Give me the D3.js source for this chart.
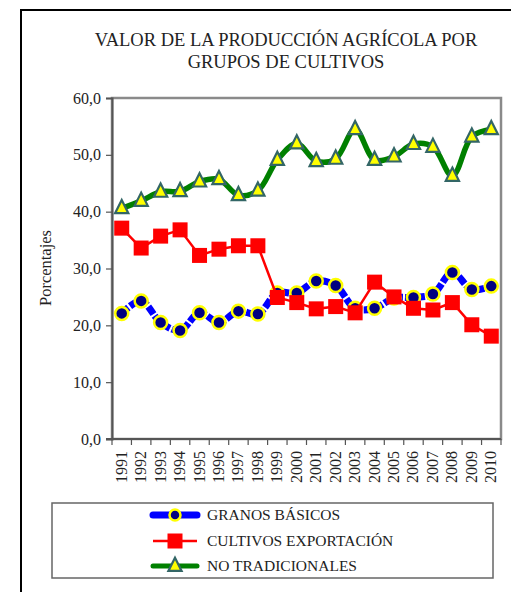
<!DOCTYPE html>
<html><head><meta charset="utf-8">
<script src="https://cdn.jsdelivr.net/npm/d3@7"></script>
<style>body{margin:0;background:#fff}svg{display:block}</style>
</head><body><svg id="c" width="511" height="592" style="font-family:'Liberation Serif','Times New Roman',Times,'DejaVu Serif',serif"></svg>
<script>
const years = ["1991","1992","1993","1994","1995","1996","1997","1998","1999","2000","2001","2002","2003","2004","2005","2006","2007","2008","2009","2010"];
const granosBasicos = [22.1,24.3,20.5,19.1,22.2,20.5,22.5,22.0,25.7,25.7,27.8,27.0,23.0,23.0,24.8,24.9,25.5,29.3,26.3,26.9];
const cultivosExportacion = [37.1,33.6,35.7,36.8,32.3,33.4,34.0,34.0,24.9,24.0,22.9,23.3,22.2,27.6,25.0,23.0,22.7,24.0,20.1,18.1];
const noTradicionales = [40.6,41.9,43.5,43.6,45.3,45.7,42.9,43.7,49.1,52.0,48.9,49.3,54.5,49.1,49.7,51.9,51.4,46.3,53.2,54.5];
const yTicks = [0,10,20,30,40,50,60];
const seriesNames = ["GRANOS BÁSICOS","CULTIVOS EXPORTACIÓN","NO TRADICIONALES"];
const titleLines = ["VALOR DE LA PRODUCCIÓN AGRÍCOLA POR","GRUPOS DE CULTIVOS"];

const FONT = "'Liberation Serif','Times New Roman',Times,'DejaVu Serif',serif";
const svg = d3.select("#c");
const L=112,R=501,T=98,B=439;
const x = d3.scaleBand().domain(years).range([L,R]);
const y = d3.scaleLinear().domain([0,60]).range([B,T]);
const fmt = v => v.toFixed(1).replace(".",",");

// outer border
svg.append("path").attr("d",`M21,600 L21,10 L520,10`).attr("fill","none").attr("stroke","#000").attr("stroke-width",2);

// title
svg.selectAll(".title").data(titleLines).enter().append("text")
 .attr("x",286).attr("y",(d,i)=>46+i*22).attr("text-anchor","middle").attr("font-size",18.5)
 .attr("font-family",FONT).attr("fill","#222").text(d=>d);

// plot border
svg.append("rect").attr("x",L).attr("y",T).attr("width",R-L).attr("height",B-T)
 .attr("fill","none").attr("stroke","#8a8a8a").attr("stroke-width",2.5);

// y axis
const ya = svg.append("g").attr("transform",`translate(${L},0)`)
 .call(d3.axisLeft(y).tickValues(yTicks).tickFormat(fmt).tickSize(6).tickPadding(5));
ya.attr("font-family",FONT);
ya.select(".domain").attr("stroke","#555").attr("stroke-width",2);
ya.selectAll(".tick line").attr("stroke","#555").attr("stroke-width",1.2);
ya.selectAll("text").attr("font-size",16).attr("font-family",FONT).attr("fill","#222");

// x axis ticks at boundaries
const xa = svg.append("g");
xa.append("line").attr("x1",L-6).attr("x2",R).attr("y1",B).attr("y2",B).attr("stroke","#555").attr("stroke-width",2);
xa.selectAll(".xt").data(years.concat(["end"])).enter().append("line")
 .attr("x1",(d,i)=>L+i*x.step()).attr("x2",(d,i)=>L+i*x.step())
 .attr("y1",B).attr("y2",B+6).attr("stroke","#555").attr("stroke-width",1.2);
xa.selectAll(".xl").data(years).enter().append("text")
 .attr("transform",d=>`translate(${x(d)+x.bandwidth()/2+5},${B+12}) rotate(-90)`)
 .attr("text-anchor","end").attr("font-size",16).attr("font-family",FONT).attr("fill","#222").text(d=>d);

// y label
svg.append("text").attr("transform","translate(51,268) rotate(-90)").attr("text-anchor","middle")
 .attr("font-size",16.5).attr("font-family",FONT).attr("fill","#222").text("Porcentajes");

const cx = d => x(d)+x.bandwidth()/2;
const mk = arr => arr.map((v,i)=>[cx(years[i]),y(v)]);

const lineSmooth = d3.line().curve(d3.curveCatmullRom.alpha(0.5));
const lineStraight = d3.line();
// series 1: granos
svg.append("path").attr("d",lineSmooth(mk(granosBasicos))).attr("fill","none")
 .attr("stroke","#0000ff").attr("stroke-width",7).attr("stroke-dasharray","9,2");
svg.selectAll(".g1").data(mk(granosBasicos)).enter().append("circle")
 .attr("cx",d=>d[0]).attr("cy",d=>d[1]).attr("r",6.5).attr("fill","#000080").attr("stroke","#ffff00").attr("stroke-width",2.5);

// series 2: cultivos
svg.append("path").attr("d",lineStraight(mk(cultivosExportacion))).attr("fill","none")
 .attr("stroke","#ff0000").attr("stroke-width",2.5);
svg.selectAll(".g2").data(mk(cultivosExportacion)).enter().append("rect")
 .attr("x",d=>d[0]-7.5).attr("y",d=>d[1]-7.5).attr("width",15).attr("height",15).attr("fill","#ff0000");

// series 3: no tradicionales
svg.append("path").attr("d",lineSmooth(mk(noTradicionales))).attr("fill","none")
 .attr("stroke","#008000").attr("stroke-width",5.5);
const tri = (cx,cy,s)=>`M${cx},${cy-s*0.75} L${cx+s*0.6},${cy+s*0.45} L${cx-s*0.6},${cy+s*0.45} Z`;
svg.selectAll(".g3").data(mk(noTradicionales)).enter().append("path")
 .attr("d",d=>tri(d[0],d[1],11)).attr("fill","#ffff00").attr("stroke","#336666").attr("stroke-width",2.2);

// legend
svg.append("rect").attr("x",52).attr("y",503).attr("width",441).attr("height",75)
 .attr("fill","none").attr("stroke","#666").attr("stroke-width",1.5);
const ly = [515,541,566];
svg.selectAll(".lg").data(seriesNames).enter().append("text")
 .attr("x",207).attr("y",(d,i)=>ly[i]+5).attr("font-size",15.5).attr("font-family",FONT).attr("fill","#222").text(d=>d);
svg.append("line").attr("x1",153).attr("x2",197).attr("y1",ly[0]).attr("y2",ly[0]).attr("stroke","#0000ff").attr("stroke-width",7).attr("stroke-linecap","round");
svg.append("circle").attr("cx",175).attr("cy",ly[0]).attr("r",5.5).attr("fill","#000080").attr("stroke","#ffff00").attr("stroke-width",2.5);
svg.append("line").attr("x1",153).attr("x2",197).attr("y1",ly[1]).attr("y2",ly[1]).attr("stroke","#ff0000").attr("stroke-width",2.5);
svg.append("rect").attr("x",167.5).attr("y",ly[1]-7.5).attr("width",15).attr("height",15).attr("fill","#ff0000");
svg.append("line").attr("x1",153).attr("x2",197).attr("y1",ly[2]).attr("y2",ly[2]).attr("stroke","#008000").attr("stroke-width",5).attr("stroke-linecap","round");
svg.append("path").attr("d",tri(175,ly[2],11)).attr("fill","#ffff00").attr("stroke","#336666").attr("stroke-width",2.2);
</script></body></html>
